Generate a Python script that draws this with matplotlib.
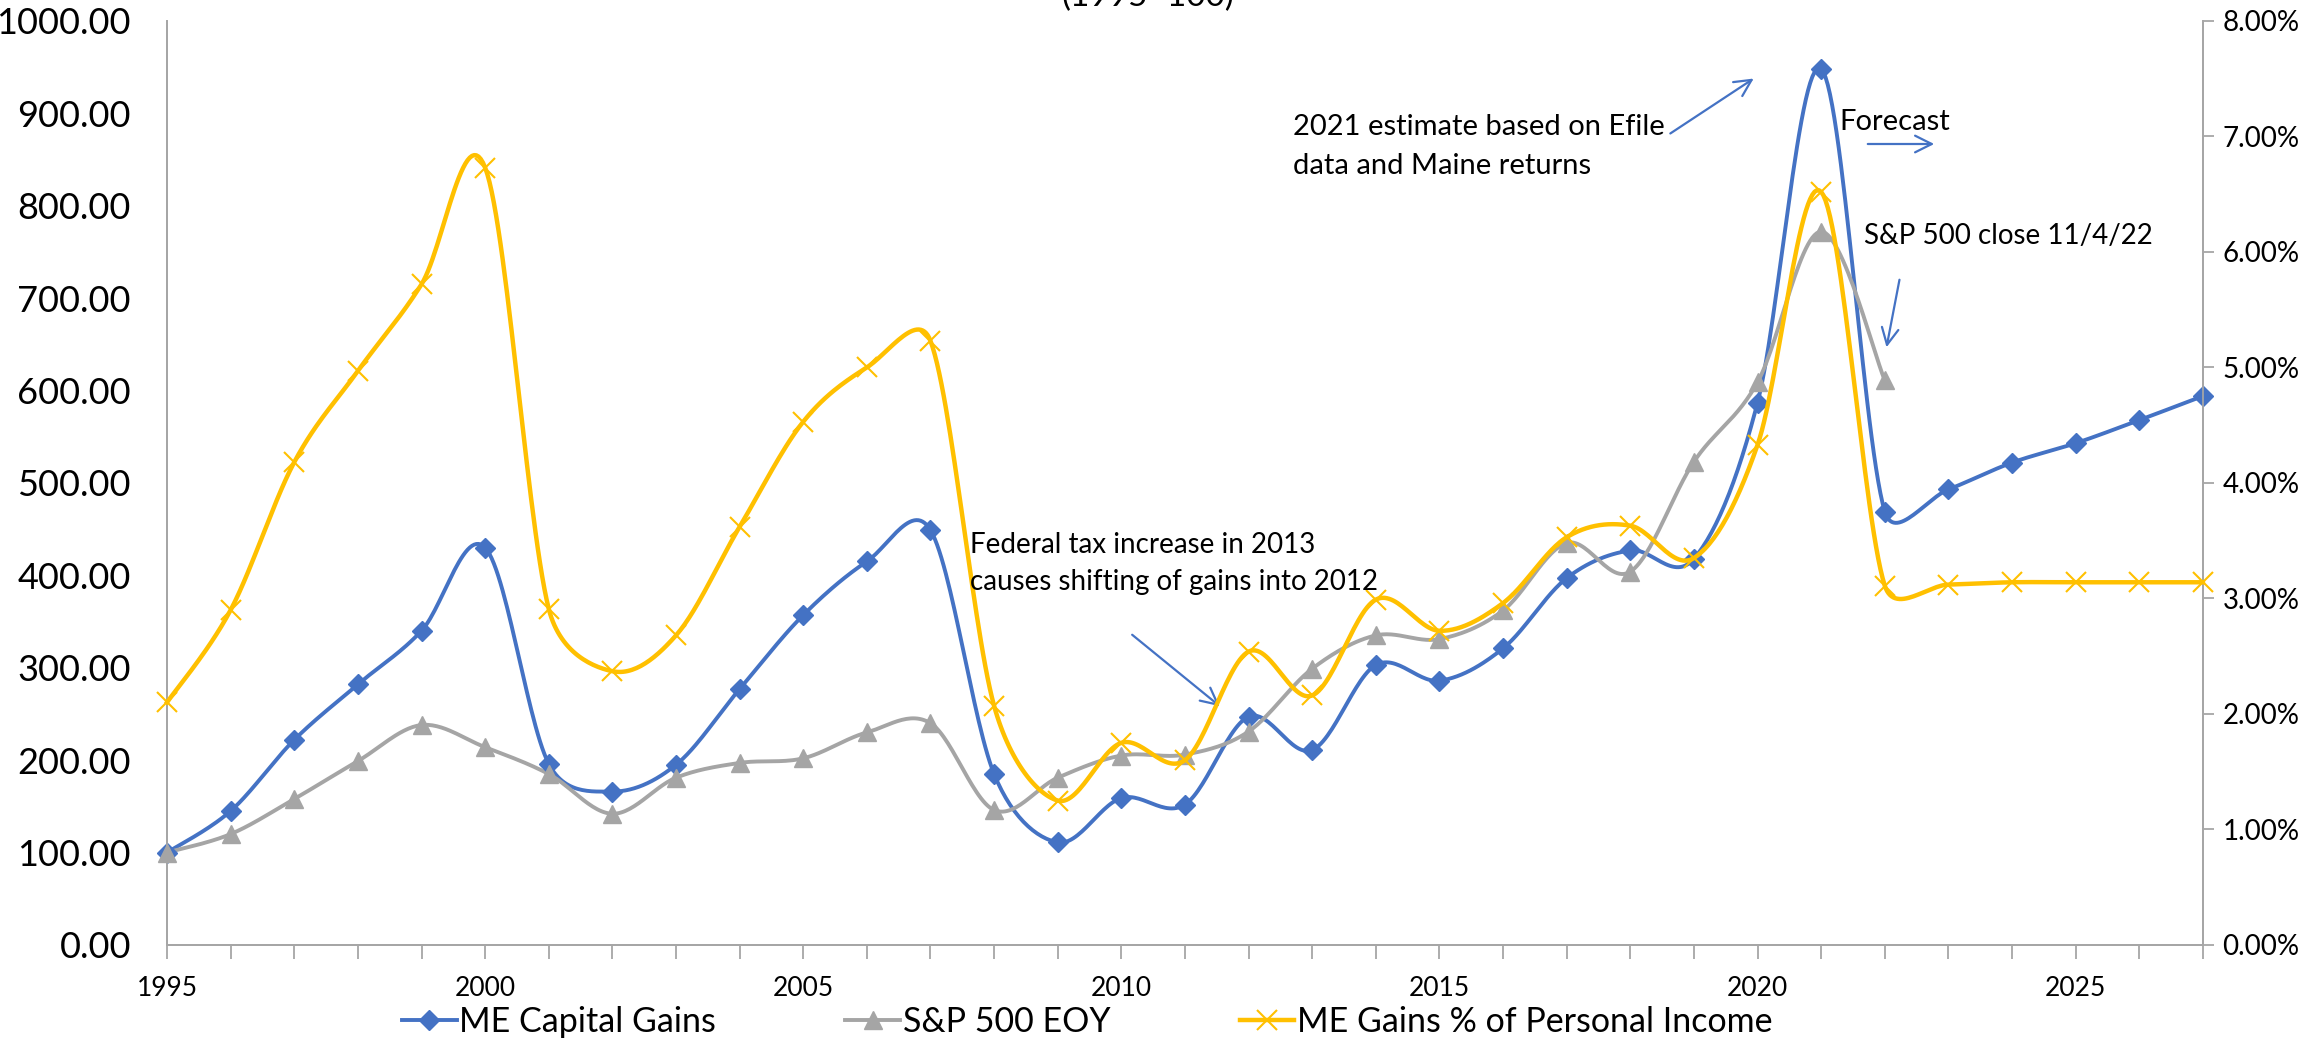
import numpy as np
import matplotlib.pyplot as plt
from matplotlib.ticker import MultipleLocator, FuncFormatter

plt.rcParams['font.family'] = ['Lato', 'DejaVu Sans']

years = list(range(1995, 2028))
# ME capital gains index (1995=100)
me_gains = [100, 145, 222, 282, 340, 430, 196, 166, 195, 277,
            357, 415, 449, 185, 111, 159, 152, 247, 211, 303,
            286, 321, 397, 427, 418, 587, 948, 469, 493, 522,
            543, 568, 594]
# S&P 500 end of year index (1995=100), through 2022
sp_years = list(range(1995, 2023))
sp500 = [100, 120, 158, 199, 238, 214, 185, 142, 181, 197,
         202, 230, 240, 146, 181, 205, 206, 231, 299, 335,
         331, 362, 435, 404, 523, 609, 772, 611]
# ME gains as % of personal income
gains_pct = [2.10, 2.90, 4.18, 4.97, 5.72, 6.73, 2.91, 2.37, 2.68, 3.62,
             4.53, 5.00, 5.23, 2.07, 1.25, 1.75, 1.60, 2.54, 2.16, 2.99,
             2.72, 2.96, 3.53, 3.63, 3.35, 4.33, 6.52, 3.11, 3.12, 3.14,
             3.14, 3.14, 3.14]


def smooth(a, x, y, n=30):
    # Excel-like smoothed line, bezier built in screen space
    pts = a.transData.transform(np.column_stack([x, y]))
    m = len(pts)
    t = np.linspace(0, 1, n)[:, None]
    out = []
    for i in range(m - 1):
        p0 = pts[max(i - 1, 0)]
        p1 = pts[i]
        p2 = pts[i + 1]
        p3 = pts[min(i + 2, m - 1)]
        d12 = np.hypot(*(p2 - p1))
        d02 = np.hypot(*(p2 - p0))
        d13 = np.hypot(*(p3 - p1))
        c1 = p1 + (p2 - p0) / d02 * min(d02 / 6, d12 / 2) if d02 > 0 else p1
        c2 = p2 - (p3 - p1) / d13 * min(d13 / 6, d12 / 2) if d13 > 0 else p2
        seg = ((1 - t) ** 3) * p1 + 3 * ((1 - t) ** 2) * t * c1 + 3 * (1 - t) * t ** 2 * c2 + t ** 3 * p2
        out.append(seg)
    out = a.transData.inverted().transform(np.concatenate(out))
    return out[:, 0], out[:, 1]


blue = '#4472C4'
gray = '#A5A5A5'
gold = '#FFC000'
axis_col = '#A6A6A6'

fig = plt.figure(figsize=(23.23, 10.46), dpi=100)
ax = fig.add_axes([0.0719, 0.0966, 0.8764, 0.8834])
ax2 = ax.twinx()

ax.set_xlim(1995, 2027)
ax.set_ylim(0, 1000)
ax2.set_xlim(1995, 2027)
ax2.set_ylim(0, 0.08)

pct = np.array(gains_pct) / 100

sx, sy = smooth(ax, years, me_gains)
ax.plot(sx, sy, color=blue, lw=2.8, zorder=3, clip_on=False)
ax.plot(years, me_gains, ls='none', marker='D', ms=10.5, color=blue, zorder=4, clip_on=False)
sx, sy = smooth(ax, sp_years, sp500)
ax.plot(sx, sy, color=gray, lw=2.8, zorder=3, clip_on=False)
ax.plot(sp_years, sp500, ls='none', marker='^', ms=13, color=gray, zorder=4, clip_on=False)
sx, sy = smooth(ax2, years, pct)
ax2.plot(sx, sy, color=gold, lw=3.2, zorder=3, clip_on=False)
ax2.plot(years, pct, ls='none', marker='x', ms=15, mew=1.5,
         color=gold, zorder=4, clip_on=False)

ax.xaxis.set_major_locator(MultipleLocator(5))
ax.xaxis.set_minor_locator(MultipleLocator(1))
ax.yaxis.set_major_locator(MultipleLocator(100))
ax.yaxis.set_major_formatter(FuncFormatter(lambda v, p: '%.2f' % v))
ax2.yaxis.set_major_locator(MultipleLocator(0.01))
ax2.yaxis.set_major_formatter(FuncFormatter(lambda v, p: '%.2f%%' % (v * 100)))

ax.tick_params(axis='x', which='both', length=10, width=1.3, color=axis_col,
               labelsize=19, pad=12)
ax.tick_params(axis='y', length=0, labelsize=26, pad=26)
ax2.tick_params(axis='y', length=8, width=1.3, color=axis_col, labelsize=20, pad=6)

for a in (ax, ax2):
    a.spines['top'].set_visible(False)
    for s in ('left', 'right', 'bottom'):
        a.spines[s].set_color(axis_col)
        a.spines[s].set_linewidth(1.3)

# partially cut-off title
fig.text(0.494, 1.003, '(1995=100)', ha='center', va='center', fontsize=24)

# annotations
arrow = dict(arrowstyle='->', color=blue, lw=1.6, mutation_scale=30)
fig.text(970 / 2323, 1 - 545 / 1046, 'Federal tax increase in 2013', fontsize=20, va='center')
fig.text(970 / 2323, 1 - 582 / 1046, 'causes shifting of gains into 2012', fontsize=20, va='center')
ax.annotate('', xy=(1222 / 2323, 1 - 708 / 1046), xytext=(1130 / 2323, 1 - 633 / 1046),
            xycoords='figure fraction', textcoords='figure fraction', arrowprops=arrow)

fig.text(1293 / 2323, 1 - 127 / 1046, '2021 estimate based on Efile', fontsize=21, va='center')
fig.text(1293 / 2323, 1 - 166 / 1046, 'data and Maine returns', fontsize=21, va='center')
ax.annotate('', xy=(1756 / 2323, 1 - 77 / 1046), xytext=(1668 / 2323, 1 - 135 / 1046),
            xycoords='figure fraction', textcoords='figure fraction', arrowprops=arrow)

fig.text(1839 / 2323, 1 - 122 / 1046, 'Forecast', fontsize=21, va='center')
ax.annotate('', xy=(1937 / 2323, 1 - 144 / 1046), xytext=(1865 / 2323, 1 - 144 / 1046),
            xycoords='figure fraction', textcoords='figure fraction', arrowprops=arrow)

fig.text(1864 / 2323, 1 - 236 / 1046, 'S&P 500 close 11/4/22', fontsize=20, va='center')
ax.annotate('', xy=(1886 / 2323, 1 - 350 / 1046), xytext=(1900 / 2323, 1 - 277 / 1046),
            xycoords='figure fraction', textcoords='figure fraction', arrowprops=arrow)

# legend
h1, = ax.plot([], [], color=blue, lw=2.8, marker='D', ms=10.5)
h2, = ax.plot([], [], color=gray, lw=2.8, marker='^', ms=13)
h3, = ax.plot([], [], color=gold, lw=3.2, marker='x', ms=15, mew=1.5)
fig.legend([h1, h2, h3], ['ME Capital Gains', 'S&P 500 EOY', 'ME Gains % of Personal Income'],
           loc='center', bbox_to_anchor=(0.468, 1 - 1022 / 1046), ncol=3, frameon=False,
           fontsize=24.5, handlelength=1.6, handletextpad=0.08, columnspacing=3.8)

fig.savefig('out.png', dpi=100)
